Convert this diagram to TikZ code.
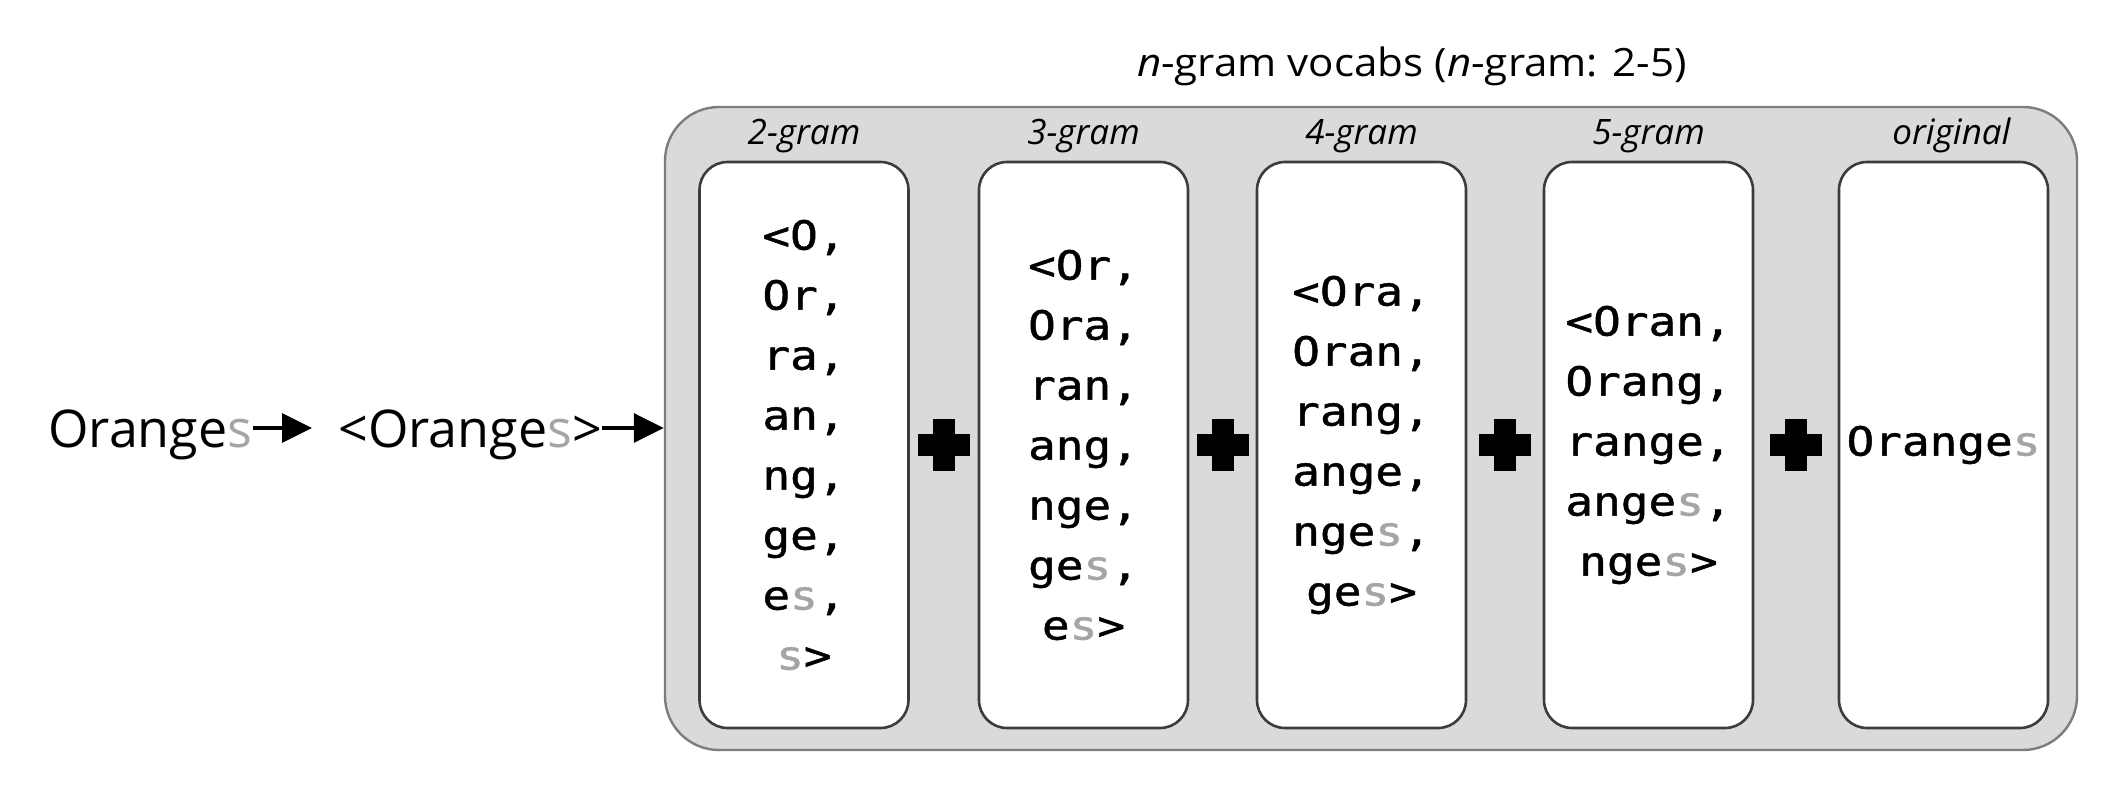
\documentclass[tikz,border=0pt]{standalone}
\usepackage{fontspec}
\setmainfont{Open Sans}
\newfontfamily\titlefont[FakeStretch=1.08]{Open Sans}
\newfontfamily\gramfont[FakeStretch=1.15,FakeBold=1.2]{DejaVu Sans Mono}
\usetikzlibrary{arrows.meta,calc}
\definecolor{boxfill}{RGB}{218,218,218}
\definecolor{boxline}{RGB}{125,125,125}
\definecolor{cellline}{RGB}{60,60,60}
\definecolor{sgray}{RGB}{165,165,165}
\newcommand\grs{\textcolor{sgray}{s}}
\newcommand\drawplus[1]{%
  \fill ([xshift=-13pt,yshift=-5.5pt]#1) rectangle ([xshift=13pt,yshift=5.5pt]#1);
  \fill ([xshift=-5.5pt,yshift=-13pt]#1) rectangle ([xshift=5.5pt,yshift=13pt]#1);}
\begin{document}
\begin{tikzpicture}[x=0.5pt,y=-0.5pt,
  word/.style={inner sep=0pt, anchor=base west, font=\fontsize{26}{30}\selectfont},
  arr/.style={line width=1.75pt, -{Triangle[length=15pt,width=14.5pt]}},
  vocab/.style={draw=boxline, fill=boxfill, line width=1.2pt, rounded corners=27pt,
    minimum width=706pt, minimum height=321.5pt, inner sep=0pt},
  cell/.style={draw=cellline, fill=white, line width=1.3pt, rounded corners=14pt,
    minimum width=104.5pt, minimum height=283pt, inner sep=0pt, align=center,
    font=\gramfont\fontsize{20}{30}\selectfont},
  lab/.style={anchor=base, inner sep=0pt, font=\fontsize{17.5}{20}\selectfont\itshape},
  ttl/.style={anchor=base, inner sep=0pt, font=\titlefont\fontsize{19.5}{22}\selectfont}]
\useasboundingbox (0,0) rectangle (2116,806);

\node[ttl] (title) at (1412,77) {\textit{n}-gram vocabs (\textit{n}-gram: 2-5)};

\node[vocab] (vocab) at (1371,428.5) {};

\node[cell] (b2) at (804,445) {<O,\\Or,\\ra,\\an,\\ng,\\ge,\\e\grs,\\\grs>};
\node[cell] (b3) at (1083.5,445) {<Or,\\Ora,\\ran,\\ang,\\nge,\\ge\grs,\\e\grs>};
\node[cell] (b4) at (1361.5,445) {<Ora,\\Oran,\\rang,\\ange,\\nge\grs,\\ge\grs>};
\node[cell] (b5) at (1648.5,445) {<Oran,\\Orang,\\range,\\ange\grs,\\nge\grs>};
\node[cell] (bo) at (1943.5,445) {Orange\grs};

\node[lab] (l2) at ([yshift=8pt]b2.north) {2-gram};
\node[lab] (l3) at ([yshift=8pt]b3.north) {3-gram};
\node[lab] (l4) at ([yshift=8pt]b4.north) {4-gram};
\node[lab] (l5) at ([yshift=8pt]b5.north) {5-gram};
\node[lab] (lo) at ([yshift=8pt,xshift=4pt]bo.north) {original};

\coordinate (p1) at ($(b2.east)!.5!(b3.west)$);
\coordinate (p2) at ($(b3.east)!.5!(b4.west)$);
\coordinate (p3) at ($(b4.east)!.5!(b5.west)$);
\coordinate (p4) at ($(b5.east)!.5!(bo.west)$);
\drawplus{p1}
\drawplus{p2}
\drawplus{p3}
\drawplus{p4}

\node[word] (w1) at (48,448) {Orange\grs};
\node[word] (w2) at (338,448) {<Orange\grs>};
\draw[arr, shorten >=13pt] ([yshift=10pt]w1.base east) -- ([yshift=10pt]w2.base west);
\coordinate (a2) at ([yshift=10pt]w2.base east);
\draw[arr] (a2) -- (a2 -| vocab.west);
\end{tikzpicture}
\end{document}
